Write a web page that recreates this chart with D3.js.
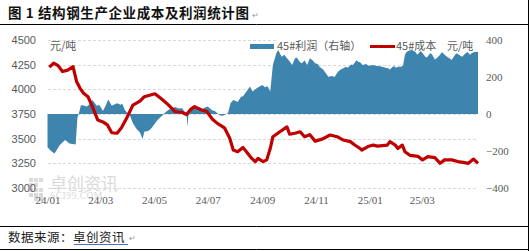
<!DOCTYPE html>
<html><head><meta charset="utf-8">
<script src="https://cdn.jsdelivr.net/npm/d3@7/dist/d3.min.js"></script>
<style>
html,body{margin:0;padding:0;background:#fff;}
svg{display:block;}
</style></head>
<body>
<svg id="c" width="530" height="251"></svg>
<script>
// ---- data ----
const costDates = ["2024-01-03","2024-01-08","2024-01-13","2024-01-18","2024-01-24","2024-01-30","2024-02-03","2024-02-07","2024-02-11","2024-02-16","2024-02-21","2024-02-27","2024-03-04","2024-03-09","2024-03-14","2024-03-20","2024-03-25","2024-03-31","2024-04-07","2024-04-15","2024-04-20","2024-04-26","2024-05-02","2024-05-10","2024-05-17","2024-05-25","2024-06-02","2024-06-07","2024-06-12","2024-06-16","2024-06-24","2024-06-30","2024-07-06","2024-07-12","2024-07-20","2024-07-26","2024-07-30","2024-08-04","2024-08-10","2024-08-14","2024-08-20","2024-08-24","2024-08-27","2024-09-02","2024-09-06","2024-09-10","2024-09-13","2024-09-21","2024-09-29","2024-10-02","2024-10-08","2024-10-14","2024-10-19","2024-10-25","2024-10-31","2024-11-08","2024-11-17","2024-11-25","2024-12-02","2024-12-10","2024-12-15","2024-12-21","2024-12-23","2024-12-30","2025-01-05","2025-01-10","2025-01-21","2025-01-24","2025-01-30","2025-02-02","2025-02-07","2025-02-10","2025-02-16","2025-02-25","2025-03-02","2025-03-08","2025-03-16","2025-03-22","2025-03-27","2025-04-04","2025-04-11","2025-04-17","2025-04-23","2025-04-29","2025-05-04"];
const costValues = [4225,4265,4240,4180,4195,4230,4080,4010,3960,3925,3825,3690,3670,3640,3560,3555,3610,3710,3840,3880,3925,3940,3955,3900,3845,3775,3765,3745,3800,3825,3790,3775,3700,3655,3610,3505,3385,3368,3410,3368,3300,3267,3300,3267,3285,3400,3520,3570,3620,3545,3555,3570,3520,3540,3475,3495,3537,3520,3486,3470,3436,3400,3385,3420,3435,3425,3435,3470,3435,3400,3435,3368,3330,3320,3285,3318,3308,3250,3285,3285,3268,3260,3250,3293,3250];

const profitDates = ["2024-01-01","2024-01-05","2024-01-09","2024-01-15","2024-01-21","2024-01-26","2024-02-02","2024-02-04","2024-02-06","2024-02-08","2024-02-15","2024-02-18","2024-02-21","2024-02-26","2024-02-29","2024-03-04","2024-03-07","2024-03-10","2024-03-14","2024-03-20","2024-03-24","2024-03-26","2024-03-29","2024-04-01","2024-04-03","2024-04-07","2024-04-11","2024-04-15","2024-04-18","2024-04-20","2024-04-25","2024-04-28","2024-05-05","2024-05-11","2024-05-14","2024-05-18","2024-05-25","2024-05-29","2024-06-02","2024-06-05","2024-06-07","2024-06-08","2024-06-09","2024-06-12","2024-06-16","2024-06-21","2024-06-24","2024-06-28","2024-07-01","2024-07-06","2024-07-09","2024-07-13","2024-07-15","2024-07-18","2024-07-22","2024-07-24","2024-07-27","2024-07-30","2024-08-02","2024-08-04","2024-08-08","2024-08-10","2024-08-12","2024-08-14","2024-08-18","2024-08-21","2024-08-26","2024-09-01","2024-09-04","2024-09-07","2024-09-10","2024-09-13","2024-09-17","2024-09-19","2024-09-23","2024-09-26","2024-09-29","2024-10-02","2024-10-05","2024-10-08","2024-10-10","2024-10-14","2024-10-16","2024-10-19","2024-10-22","2024-10-25","2024-10-28","2024-10-31","2024-11-03","2024-11-05","2024-11-09","2024-11-11","2024-11-15","2024-11-19","2024-11-22","2024-11-26","2024-11-29","2024-12-02","2024-12-05","2024-12-07","2024-12-11","2024-12-13","2024-12-17","2024-12-19","2024-12-21","2024-12-24","2024-12-28","2024-12-31","2025-01-04","2025-01-07","2025-01-09","2025-01-13","2025-01-15","2025-01-19","2025-01-22","2025-01-24","2025-01-28","2025-01-31","2025-02-02","2025-02-06","2025-02-08","2025-02-10","2025-02-12","2025-02-16","2025-02-18","2025-02-22","2025-02-24","2025-02-28","2025-03-02","2025-03-05","2025-03-07","2025-03-11","2025-03-13","2025-03-16","2025-03-18","2025-03-22","2025-03-24","2025-03-27","2025-03-31","2025-04-02","2025-04-04","2025-04-08","2025-04-10","2025-04-14","2025-04-16","2025-04-19","2025-04-22","2025-04-25","2025-04-27","2025-04-30","2025-05-04"];
const profitValues = [-180,-200,-213,-168,-140,-159,-165,-20,10,49,40,55,76,45,49,16,45,78,45,58,50,55,20,5,0,-50,-80,-100,-135,-96,-90,-77,-32,-5,10,25,38,30,31,10,0,-70,-10,20,40,30,25,35,40,20,16,0,-8,-10,0,5,60,76,70,65,95,94,110,121,148,121,140,157,145,150,121,265,330,346,310,320,301,285,265,300,305,280,274,290,265,301,290,275,270,255,240,229,202,205,200,229,240,247,255,250,268,265,290,283,280,265,270,260,265,262,260,258,256,250,247,240,260,250,255,255,265,320,337,345,346,335,320,340,330,310,305,330,320,295,301,320,335,320,305,300,292,320,328,315,310,325,335,320,330,335,337];

const leftTicks = [3000,3250,3500,3750,4000,4250,4500];
const rightTicks = [-400,-200,0,200,400];
const xTickDates = ["2024-01-01","2024-03-01","2024-05-01","2024-07-01","2024-09-01","2024-11-01","2025-01-01","2025-03-01"];
const seriesNames = ["45#利润（右轴）","45#成本"];

// ---- chart ----
const parse = d3.timeParse("%Y-%m-%d");
const svg = d3.select("#c");
const FONT_CN = "'Noto Sans CJK SC','Noto Sans',sans-serif";

const x = d3.scaleTime().domain([parse("2024-01-01"), parse("2025-05-04")]).range([47.5, 478]);
const yL = d3.scaleLinear().domain([3000, 4500]).range([188, 40]);
const yR = d3.scaleLinear().domain([-400, 400]).range([188, 40]);

const cost = costDates.map((d, i) => ({date: parse(d), v: costValues[i]}));
const profit = profitDates.map((d, i) => ({date: parse(d), v: profitValues[i]}));

// frame lines
svg.append("line").attr("x1",0).attr("x2",529).attr("y1",24.5).attr("y2",24.5).attr("stroke","#000").attr("stroke-width",1);
svg.append("line").attr("x1",0).attr("x2",529).attr("y1",226.5).attr("y2",226.5).attr("stroke","#000").attr("stroke-width",1);
svg.append("line").attr("x1",0).attr("x2",529).attr("y1",249.5).attr("y2",249.5).attr("stroke","#000").attr("stroke-width",1);
svg.append("line").attr("x1",528.5).attr("x2",528.5).attr("y1",0).attr("y2",251).attr("stroke","#000").attr("stroke-width",1);

// title
svg.append("text").attr("x",8).attr("y",18).attr("font-family",FONT_CN).attr("font-size",13.5).attr("font-weight",700).attr("fill","#111").attr("letter-spacing",0.6)
  .text("图 1  结构钢生产企业成本及利润统计图");
svg.append("text").attr("x",252).attr("y",18).attr("font-family",FONT_CN).attr("font-size",8).attr("fill","#999").text("↵");

// watermark
const wm = svg.append("g").attr("fill","#dadada");
[[29,178],[34,178],[39,178],[29,183],[34,183],[29,188],[34,188],[39,188],[29,193],[34,193],[39,193],[34,197],[39,197]].forEach(p=>{
  wm.append("rect").attr("x",p[0]).attr("y",p[1]).attr("width",4).attr("height",4);
});
wm.append("text").attr("x",50).attr("y",190).attr("font-family",FONT_CN).attr("font-size",17).text("卓创资讯");
wm.append("text").attr("x",50).attr("y",199).attr("font-family","'Liberation Serif',serif").attr("font-size",9.5).attr("letter-spacing",0.5).text("SCI99.COM");

// gridlines
svg.append("g").selectAll("line").data(leftTicks).join("line")
  .attr("x1",48).attr("x2",478).attr("y1",d=>Math.round(yL(d))+0.5).attr("y2",d=>Math.round(yL(d))+0.5)
  .attr("stroke","#d9d9d9").attr("stroke-width",1).attr("stroke-dasharray","3,2");

// profit area
const area = d3.area().x(d=>x(d.date)).y0(yR(0)).y1(d=>yR(d.v));
svg.append("path").datum(profit).attr("d",area).attr("fill","#3d85ae");

// cost line
const line = d3.line().x(d=>x(d.date)).y(d=>yL(d.v));
svg.append("path").datum(cost).attr("d",line).attr("fill","none").attr("stroke","#c00000").attr("stroke-width",3.2).attr("stroke-linejoin","round");

// axes
const axL = svg.append("g").attr("transform","translate(38,0)")
  .call(d3.axisLeft(yL).tickValues(leftTicks).tickSize(0).tickPadding(2).tickFormat(d3.format("d")));
axL.select(".domain").remove();
axL.selectAll("text").attr("font-family","'Liberation Sans',Arial,sans-serif").attr("font-size",11).attr("fill","#595959");

const axR = svg.append("g").attr("transform","translate(486,0)")
  .call(d3.axisRight(yR).tickValues(rightTicks).tickSize(0).tickPadding(0).tickFormat(d=>d<0?"−"+Math.abs(d):String(d)));
axR.select(".domain").remove();
axR.selectAll("text").attr("font-family","'Liberation Serif',serif").attr("font-size",11).attr("fill","#595959");

const axB = svg.append("g").attr("transform","translate(0,193)")
  .call(d3.axisBottom(x).tickValues(xTickDates.map(parse)).tickSize(0).tickPadding(3).tickFormat(d3.timeFormat("%y/%m")));
axB.select(".domain").remove();
axB.selectAll("text").attr("font-family","'Liberation Serif',serif").attr("font-size",11).attr("fill","#595959");

// units
svg.append("text").attr("x",50).attr("y",50).attr("font-family",FONT_CN).attr("font-size",11).attr("fill","#595959").text("元/吨");

// legend
const lg = svg.append("g");
lg.append("rect").attr("x",276).attr("y",39).attr("width",202).attr("height",11).attr("fill","#fff");
lg.append("rect").attr("x",250).attr("y",44).attr("width",24).attr("height",5).attr("fill","#3d85ae");
lg.append("text").attr("x",277).attr("y",50).attr("font-family",FONT_CN).attr("font-size",11).attr("fill","#595959").text(seriesNames[0]);
lg.append("line").attr("x1",370).attr("x2",395).attr("y1",46.5).attr("y2",46.5).attr("stroke","#c00000").attr("stroke-width",3);
lg.append("text").attr("x",396).attr("y",50).attr("font-family",FONT_CN).attr("font-size",11).attr("fill","#595959").text(seriesNames[1]);
lg.append("text").attr("x",447).attr("y",50).attr("font-family",FONT_CN).attr("font-size",11).attr("fill","#595959").text("元/吨");

// footer
svg.append("text").attr("x",8).attr("y",242).attr("font-family",FONT_CN).attr("font-size",12.5).attr("fill","#222").attr("letter-spacing",0.5)
  .text("数据来源：卓创资讯");
svg.append("line").attr("x1",74).attr("x2",128).attr("y1",244.5).attr("y2",244.5).attr("stroke","#4472c4").attr("stroke-width",1);
svg.append("text").attr("x",129).attr("y",241).attr("font-family",FONT_CN).attr("font-size",8).attr("fill","#999").text("↵");
</script>
</body></html>
